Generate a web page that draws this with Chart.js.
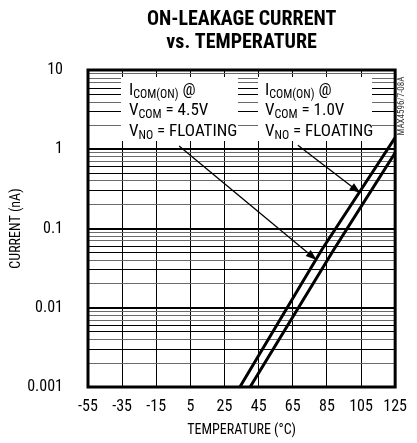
<!DOCTYPE html>
<html>
<head>
<meta charset="utf-8">
<script src="https://cdn.jsdelivr.net/npm/chart.js@4.4.1/dist/chart.umd.min.js"></script>
<style>
    html, body { margin: 0; padding: 0; background: #fff; }
</style>
</head>
<body>
<canvas id="chart" width="417" height="443"></canvas>
<script>
// Chart data
const titleLines = ['ON-LEAKAGE CURRENT', 'vs. TEMPERATURE'];
const tempTicks = [-55, -35, -15, 5, 25, 45, 65, 85, 105, 125];
const decadeTicks = [0.001, 0.01, 0.1, 1, 10];
const decadeLabels = ['0.001', '0.01', '0.1', '1', '10'];
const mantissas = [1, 2, 3, 4, 5, 6, 7, 8, 9];

// I_COM(ON) @ V_COM = 4.5V
const temp45 = [34, 82, 125];
const current45 = [0.001, 0.054, 1.4];
// I_COM(ON) @ V_COM = 1.0V
const temp10 = [40, 89, 125];
const current10 = [0.001, 0.054, 0.9];

// annotation arrows: [fromTemp, fromCurrent, toTemp, toCurrent]
const arrow45 = [-1.6, 1.1, 79, 0.04];
const arrow10 = [68, 1.12, 104.6, 0.28];

const FONT = "'Roboto Condensed', 'Liberation Sans Narrow', 'DejaVu Sans Condensed', sans-serif";
const GRAY = '#6a6a6a';

function mantissaOf(v) {
    const e = Math.floor(Math.log10(v) + 1e-9);
    return Math.round(v / Math.pow(10, e));
}

function isDecade(v) {
    return mantissaOf(v) === 1;
}

function minorColor(m) {
    return (m === 3 || m === 5 || m === 6) ? '#000' : GRAY;
}

function toPoints(xs, ys) {
    return xs.map((x, i) => ({ x: x, y: ys[i] }));
}

// text with subscript pieces: parts = [[text, isSub], ...]
function drawSubText(ctx, x, y, parts) {
    let cx = x;
    parts.forEach(([txt, sub]) => {
        ctx.font = (sub ? '12px ' : '17px ') + FONT;
        ctx.fillText(txt, cx, sub ? y + 3 : y);
        cx += ctx.measureText(txt).width;
    });
}

function drawArrow(ctx, xs, ys, a) {
    const x1 = xs.getPixelForValue(a[0]), y1 = ys.getPixelForValue(a[1]);
    const x2 = xs.getPixelForValue(a[2]), y2 = ys.getPixelForValue(a[3]);
    const ang = Math.atan2(y2 - y1, x2 - x1);
    const len = 11, half = 4;
    ctx.strokeStyle = '#000';
    ctx.lineWidth = 1.3;
    ctx.beginPath();
    ctx.moveTo(x1, y1);
    ctx.lineTo(x2 - Math.cos(ang) * len * 0.8, y2 - Math.sin(ang) * len * 0.8);
    ctx.stroke();
    ctx.fillStyle = '#000';
    ctx.beginPath();
    ctx.moveTo(x2, y2);
    ctx.lineTo(x2 - Math.cos(ang) * len + Math.sin(ang) * half, y2 - Math.sin(ang) * len - Math.cos(ang) * half);
    ctx.lineTo(x2 - Math.cos(ang) * len - Math.sin(ang) * half, y2 - Math.sin(ang) * len + Math.cos(ang) * half);
    ctx.closePath();
    ctx.fill();
}

const annotations = {
    id: 'annotations',
    beforeDatasetsDraw(chart) {
        const { ctx, chartArea: a, scales: { y } } = chart;
        // white panel behind the notes, with the grid left showing in the gaps
        ctx.save();
        ctx.fillStyle = '#fff';
        ctx.fillRect(a.left + 1, a.top + 7, a.right - a.left - 2, 64);
        const gaps = [[a.left, a.left + 33], [a.left + 150, a.left + 170], [a.left + 284, a.right]];
        [2, 3, 4, 5, 6, 7, 8].forEach(m => {
            const py = Math.round(y.getPixelForValue(m)) + 0.5;
            if (py < a.top + 7) return;
            ctx.strokeStyle = minorColor(m);
            ctx.lineWidth = 1;
            gaps.forEach(([g0, g1]) => {
                ctx.beginPath();
                ctx.moveTo(g0, py);
                ctx.lineTo(g1, py);
                ctx.stroke();
            });
        });
        ctx.restore();
    },
    afterDatasetsDraw(chart) {
        const { ctx, chartArea: a, scales: { x, y } } = chart;
        ctx.save();
        // heavy frame
        ctx.strokeStyle = '#000';
        ctx.lineWidth = 3;
        ctx.strokeRect(a.left, a.top, a.right - a.left, a.bottom - a.top);

        // notes
        ctx.fillStyle = '#000';
        ctx.textBaseline = 'alphabetic';
        ctx.textAlign = 'left';
        const notes = [[a.left + 41, '4.5V'], [a.left + 177, '1.0V']];
        notes.forEach(([tx, v]) => {
            drawSubText(ctx, tx, a.top + 25, [['I', false], ['COM(ON)', true], [' @', false]]);
            drawSubText(ctx, tx, a.top + 45, [['V', false], ['COM', true], [' = ' + v, false]]);
            drawSubText(ctx, tx, a.top + 66, [['V', false], ['NO', true], [' = FLOATING', false]]);
        });

        drawArrow(ctx, x, y, arrow45);
        drawArrow(ctx, x, y, arrow10);

        // part number tag
        ctx.translate(a.right + 7, a.top + 36);
        ctx.rotate(-Math.PI / 2);
        ctx.font = '9px ' + FONT;
        ctx.textAlign = 'center';
        ctx.textBaseline = 'middle';
        ctx.fillStyle = '#333';
        ctx.fillText('MAX4596/7-08A', 0, 0);
        ctx.restore();
    }
};

const ctx = document.getElementById('chart');
new Chart(ctx, {
    type: 'scatter',
    data: {
        datasets: [
            { data: toPoints(temp45, current45), showLine: true, borderColor: '#000', borderWidth: 3, pointRadius: 0 },
            { data: toPoints(temp10, current10), showLine: true, borderColor: '#000', borderWidth: 3, pointRadius: 0 }
        ]
    },
    options: {
        responsive: false,
        animation: false,
        layout: { padding: { left: 0, right: 0, top: 0, bottom: 0 } },
        plugins: {
            legend: { display: false },
            tooltip: { enabled: false },
            title: {
                display: true,
                text: titleLines,
                fullSize: false,
                color: '#000',
                font: { family: FONT, size: 20, weight: 'bold', lineHeight: 1.15 },
                padding: { top: 8, bottom: 16 }
            }
        },
        scales: {
            x: {
                type: 'linear',
                min: -55,
                max: 125,
                afterBuildTicks: s => { s.ticks = tempTicks.map(v => ({ value: v })); },
                afterFit: s => { s.height = 56; },
                grid: { color: '#000', lineWidth: 1, drawTicks: false },
                border: { display: false },
                ticks: { color: '#000', font: { family: FONT, size: 16 }, padding: 10, maxRotation: 0 },
                title: {
                    display: true,
                    text: 'TEMPERATURE (°C)',
                    color: '#000',
                    font: { family: FONT, size: 14, lineHeight: 1.2 },
                    padding: { top: 0, bottom: 4 }
                }
            },
            y: {
                type: 'logarithmic',
                min: 0.001,
                max: 10,
                afterBuildTicks: s => {
                    const t = [];
                    decadeTicks.forEach((d, i) => {
                        if (i === decadeTicks.length - 1) { t.push({ value: d }); return; }
                        mantissas.forEach(m => t.push({ value: d * m }));
                    });
                    s.ticks = t;
                },
                afterFit: s => { s.width = 88; },
                grid: {
                    drawTicks: false,
                    color: c => isDecade(c.tick.value) ? '#000' : minorColor(mantissaOf(c.tick.value)),
                    lineWidth: c => isDecade(c.tick.value) ? 2 : 1
                },
                border: { display: false },
                ticks: {
                    color: '#000',
                    font: { family: FONT, size: 16 },
                    padding: 25,
                    autoSkip: false,
                    callback: v => {
                        const i = decadeTicks.findIndex(d => Math.abs(d - v) / d < 1e-6);
                        return i >= 0 ? decadeLabels[i] : '';
                    }
                },
                title: {
                    display: true,
                    text: 'CURRENT (nA)',
                    color: '#000',
                    font: { family: FONT, size: 14, lineHeight: 1.2 },
                    padding: { top: 8, bottom: 0 }
                }
            }
        }
    },
    plugins: [annotations]
});
</script>
</body>
</html>
